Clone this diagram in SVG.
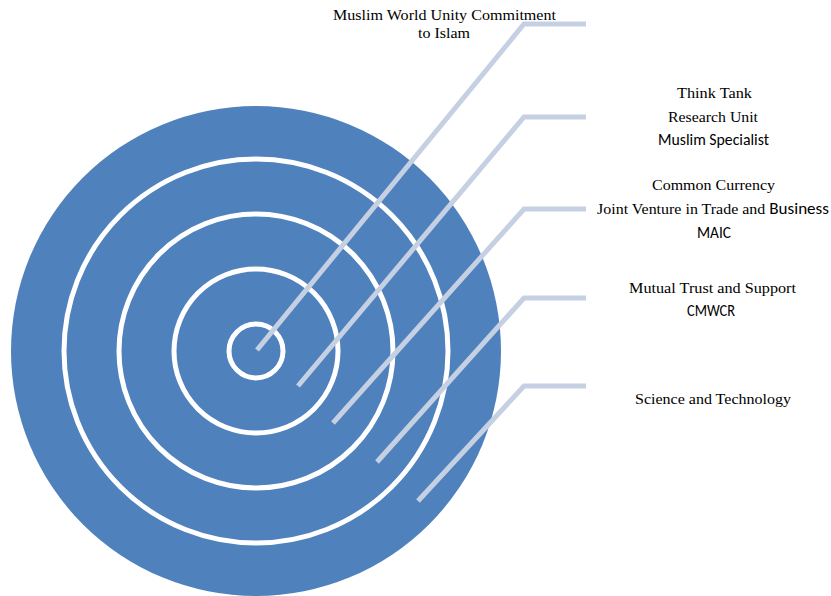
<svg xmlns="http://www.w3.org/2000/svg" width="831" height="596" viewBox="0 0 831 596">
<style>
.ring{fill:none;stroke:#ffffff;stroke-width:5}
.conn{fill:none;stroke:#c6d0e3;stroke-width:5;stroke-linejoin:miter}
.s{font-family:"Liberation Serif","Times New Roman",serif;font-size:14.5px;fill:#000;text-anchor:middle}
.ss{font-family:Carlito,"Liberation Sans",Arial,sans-serif;font-size:16px;fill:#000;text-anchor:middle}
</style>
<rect width="831" height="596" fill="#ffffff"/>
<g id="target">
<circle cx="256" cy="351" r="245" fill="#4f81bd"/>
<circle class="ring" cx="256" cy="351" r="192"/>
<circle class="ring" cx="256" cy="351" r="137"/>
<circle class="ring" cx="256" cy="351" r="82"/>
<circle class="ring" cx="256" cy="351" r="27"/>
</g>
<g id="connectors">
<polyline class="conn" points="257,350 524,24 586,24"/>
<polyline class="conn" points="298,386 524,117 586,117"/>
<polyline class="conn" points="333,423 524,209 586,209"/>
<polyline class="conn" points="377,462 524,298 586,298"/>
<polyline class="conn" points="418,501 524,386 586,386"/>
</g>
<g id="label1">
<text class="s" x="444.5" y="20" textLength="223" lengthAdjust="spacingAndGlyphs">Muslim World Unity Commitment</text>
<text class="s" x="444" y="38" textLength="52" lengthAdjust="spacingAndGlyphs">to Islam</text>
</g>
<g id="label2">
<text class="s" x="714.5" y="98" textLength="75" lengthAdjust="spacingAndGlyphs">Think Tank</text>
<text class="s" x="713" y="122" textLength="90" lengthAdjust="spacingAndGlyphs">Research Unit</text>
<text class="ss" x="713.5" y="145" textLength="111" lengthAdjust="spacingAndGlyphs">Muslim Specialist</text>
</g>
<g id="label3">
<text class="s" x="713.5" y="190" textLength="123" lengthAdjust="spacingAndGlyphs">Common Currency</text>
<text class="s" x="713" y="214" textLength="232" lengthAdjust="spacingAndGlyphs">Joint Venture in Trade and <tspan font-family="Carlito,'Liberation Sans',Arial,sans-serif" font-size="15.5px">Business</tspan></text>
<text class="ss" x="714" y="238" textLength="34" lengthAdjust="spacingAndGlyphs">MAIC</text>
</g>
<g id="label4">
<text class="s" x="712.5" y="293" textLength="167" lengthAdjust="spacingAndGlyphs">Mutual Trust and Support</text>
<text class="ss" x="711" y="316" textLength="48" lengthAdjust="spacingAndGlyphs">CMWCR</text>
</g>
<g id="label5">
<text class="s" x="713" y="404" textLength="156" lengthAdjust="spacingAndGlyphs">Science and Technology</text>
</g>
</svg>
